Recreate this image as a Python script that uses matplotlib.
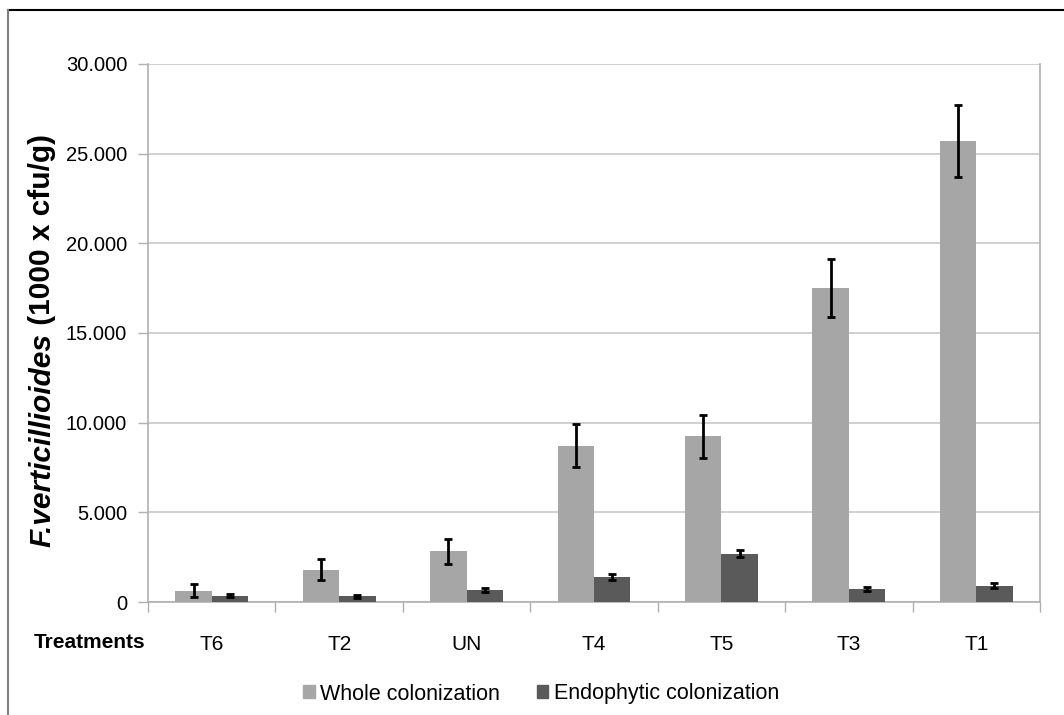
import numpy as np
import matplotlib
matplotlib.use("Agg")
import matplotlib.pyplot as plt
from matplotlib.patches import Patch
from matplotlib.lines import Line2D
from matplotlib.ticker import FuncFormatter, MultipleLocator

plt.rcParams['font.family'] = ['Liberation Sans', 'DejaVu Sans']

# treatments and colonization counts (1000 x cfu/g)
treatments = ["T6", "T2", "UN", "T4", "T5", "T3", "T1"]
whole = [630, 1800, 2820, 8720, 9240, 17500, 25700]
whole_err = [370, 600, 710, 1200, 1200, 1620, 2000]
endo = [350, 310, 670, 1390, 2690, 740, 910]
endo_err = [80, 60, 100, 150, 200, 120, 140]

c_whole = "#a6a6a6"
c_endo = "#5a5a5a"


def thousands(v, pos):
    # dot as thousands separator, "0" at the origin
    if v == 0:
        return "0"
    return f"{v:,.0f}".replace(",", ".")


fig = plt.figure(figsize=(10.64, 7.15), dpi=100)
ax = fig.add_axes([148 / 1064, 1 - 602 / 715, 892 / 1064, 538 / 715])

x = np.arange(len(treatments))
w = 1 / 3.5
err_kw = dict(ecolor="black", elinewidth=2, capsize=3, capthick=2)
ax.bar(x - w / 2, whole, w, color=c_whole, yerr=whole_err, error_kw=err_kw, zorder=3)
ax.bar(x + w / 2, endo, w, color=c_endo, yerr=endo_err, error_kw=err_kw, zorder=3)

# axes formatting
ax.set_xlim(-0.5, len(treatments) - 0.5)
ax.set_ylim(0, 30000)
ax.yaxis.set_major_locator(MultipleLocator(5000))
ax.yaxis.set_major_formatter(FuncFormatter(thousands))
ax.grid(axis="y", color="#c8c8c8", linewidth=1.2, zorder=0)

ax.set_xticks(x)
ax.set_xticklabels(treatments)
ax.set_xticks(np.arange(-0.5, len(treatments)), minor=True)
ax.tick_params(axis="x", which="major", length=0, pad=24, labelsize=15)
ax.tick_params(axis="x", which="minor", length=7, color="#b0b0b0", width=1)
ax.tick_params(axis="y", length=7, color="#b0b0b0", width=1, pad=8, labelsize=14.5)

for side in ["left", "bottom", "right"]:
    ax.spines[side].set_color("#b0b0b0")
    ax.spines[side].set_linewidth(1.2)
ax.spines["top"].set_visible(False)

# y label: species name in bold italic, units in bold
t1 = fig.text(42 / 1064, 1 - 547 / 715, "F.verticillioides", rotation=90,
              fontsize=21.5, fontweight="bold", fontstyle="italic",
              ha="center", va="bottom")
ax.annotate(" (1000 x cfu/g)", xy=(0.5, 1), xycoords=t1, rotation=90,
            fontsize=21.5, fontweight="bold", ha="center", va="bottom",
            annotation_clip=False)

fig.text(145 / 1064, 1 - 643 / 715, "Treatments", fontsize=15, fontweight="bold",
         ha="right", va="center")

handles = [Patch(color=c_whole, label="Whole colonization"),
           Patch(color=c_endo, label="Endophytic colonization")]
fig.legend(handles=handles, loc="center", bbox_to_anchor=(541 / 1064, 1 - 694 / 715),
           ncol=2, frameon=False, fontsize=15.5, handlelength=0.55, handleheight=0.55,
           handletextpad=0.25, columnspacing=1.7)

# outer frame (top and left edges)
fig.add_artist(Line2D([8 / 1064, 1], [1 - 10 / 715, 1 - 10 / 715],
                      transform=fig.transFigure, color="black", linewidth=1.5))
fig.add_artist(Line2D([8 / 1064, 8 / 1064], [0, 1 - 10 / 715],
                      transform=fig.transFigure, color="#808080", linewidth=1.5))

fig.savefig("out.png", dpi=100, facecolor="white")
